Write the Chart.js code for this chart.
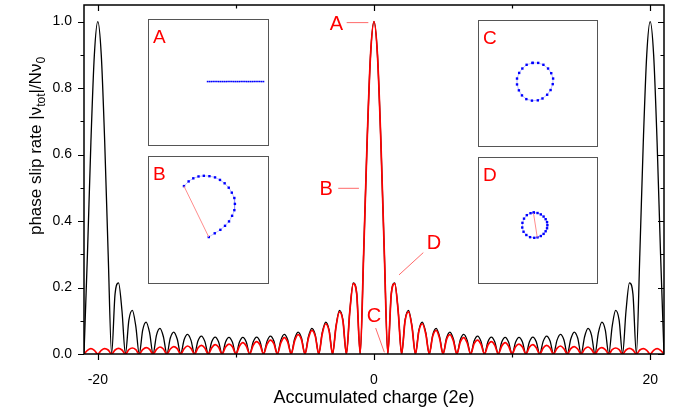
<!DOCTYPE html>
<html>
<head>
<meta charset="utf-8">
<script src="https://cdn.jsdelivr.net/npm/chart.js@4.4.1/dist/chart.umd.min.js"></script>
<style>
    html, body { margin: 0; padding: 0; background: #fff; }
    #wrap { position: relative; width: 678px; height: 416px; overflow: hidden; }
    #mainChart { position: absolute; left: 0; top: 0; }
    .inset { position: absolute; box-sizing: border-box; border: 1.5px solid #555; background: #fff; overflow: hidden; }
    .inset canvas { position: absolute; left: 0; top: 0; }
    .inset span { position: absolute; left: 4px; top: 7px; color: #ff0000; font: 19px/1 "Liberation Sans", Arial, sans-serif; }
</style>
</head>
<body>
<div id="wrap">
    <canvas id="mainChart" width="678" height="416"></canvas>
    <div class="inset" id="insetA" style="left:148px;top:19px;width:121px;height:127px"><canvas></canvas><span>A</span></div>
    <div class="inset" id="insetB" style="left:148px;top:156px;width:121px;height:128px"><canvas></canvas><span>B</span></div>
    <div class="inset" id="insetC" style="left:478px;top:20px;width:120px;height:127px"><canvas></canvas><span>C</span></div>
    <div class="inset" id="insetD" style="left:478px;top:157px;width:120px;height:127px"><canvas></canvas><span>D</span></div>
</div>
<script>
// accumulated charge (2e), one row per unit
const chargeX = [
    -21, -20.75, -20.5, -20.25, -20, -19.75, -19.5, -19.25, -19, -18.75, -18.5, -18.25,
    -18, -17.75, -17.5, -17.25, -17, -16.75, -16.5, -16.25, -16, -15.75, -15.5, -15.25,
    -15, -14.75, -14.5, -14.25, -14, -13.75, -13.5, -13.25, -13, -12.75, -12.5, -12.25,
    -12, -11.75, -11.5, -11.25, -11, -10.75, -10.5, -10.25, -10, -9.75, -9.5, -9.25,
    -9, -8.75, -8.5, -8.25, -8, -7.75, -7.5, -7.25, -7, -6.75, -6.5, -6.25,
    -6, -5.75, -5.5, -5.25, -5, -4.75, -4.5, -4.25, -4, -3.75, -3.5, -3.25,
    -3, -2.75, -2.5, -2.25, -2, -1.75, -1.5, -1.25, -1, -0.75, -0.5, -0.25,
    0, 0.25, 0.5, 0.75, 1, 1.25, 1.5, 1.75, 2, 2.25, 2.5, 2.75,
    3, 3.25, 3.5, 3.75, 4, 4.25, 4.5, 4.75, 5, 5.25, 5.5, 5.75,
    6, 6.25, 6.5, 6.75, 7, 7.25, 7.5, 7.75, 8, 8.25, 8.5, 8.75,
    9, 9.25, 9.5, 9.75, 10, 10.25, 10.5, 10.75, 11, 11.25, 11.5, 11.75,
    12, 12.25, 12.5, 12.75, 13, 13.25, 13.5, 13.75, 14, 14.25, 14.5, 14.75,
    15, 15.25, 15.5, 15.75, 16, 16.25, 16.5, 16.75, 17, 17.25, 17.5, 17.75,
    18, 18.25, 18.5, 18.75, 19, 19.25, 19.5, 19.75, 20, 20.25, 20.5, 20.75,
    21
];

// red curve: single peak at 0
const redRate = [
    0, 0.011, 0.016, 0.011, 0, 0.011, 0.016, 0.012, 0, 0.012, 0.017, 0.012,
    0, 0.013, 0.018, 0.013, 0, 0.013, 0.019, 0.014, 0, 0.014, 0.021, 0.015,
    0, 0.015, 0.022, 0.016, 0, 0.016, 0.024, 0.017, 0, 0.018, 0.026, 0.018,
    0, 0.019, 0.028, 0.020, 0, 0.021, 0.030, 0.022, 0, 0.023, 0.034, 0.024,
    0, 0.026, 0.037, 0.027, 0, 0.029, 0.042, 0.031, 0, 0.033, 0.049, 0.036,
    0, 0.039, 0.058, 0.043, 0, 0.047, 0.071, 0.053, 0, 0.060, 0.091, 0.069,
    0, 0.082, 0.127, 0.100, 0, 0.129, 0.212, 0.180, 0, 0.300, 0.637, 0.900,
    1, 0.900, 0.637, 0.300, 0, 0.180, 0.212, 0.129, 0, 0.100, 0.127, 0.082,
    0, 0.069, 0.091, 0.060, 0, 0.053, 0.071, 0.047, 0, 0.043, 0.058, 0.039,
    0, 0.036, 0.049, 0.033, 0, 0.031, 0.042, 0.029, 0, 0.027, 0.037, 0.026,
    0, 0.024, 0.034, 0.023, 0, 0.022, 0.030, 0.021, 0, 0.020, 0.028, 0.019,
    0, 0.018, 0.026, 0.018, 0, 0.017, 0.024, 0.016, 0, 0.016, 0.022, 0.015,
    0, 0.015, 0.021, 0.014, 0, 0.014, 0.019, 0.013, 0, 0.013, 0.018, 0.013,
    0, 0.012, 0.017, 0.012, 0, 0.012, 0.016, 0.011, 0, 0.011, 0.016, 0.011,
    0
];

// black curve: peaks at -20, 0 and 20
const blackRate = [
    0, 0.301, 0.637, 0.900, 1, 0.900, 0.637, 0.301, 0, 0.181, 0.214, 0.130,
    0, 0.102, 0.131, 0.084, 0, 0.072, 0.096, 0.064, 0, 0.057, 0.077, 0.052,
    0, 0.048, 0.066, 0.045, 0, 0.043, 0.059, 0.041, 0, 0.039, 0.054, 0.038,
    0, 0.037, 0.051, 0.036, 0, 0.036, 0.050, 0.035, 0, 0.035, 0.050, 0.036,
    0, 0.036, 0.051, 0.037, 0, 0.038, 0.054, 0.039, 0, 0.041, 0.059, 0.043,
    0, 0.045, 0.066, 0.048, 0, 0.052, 0.077, 0.057, 0, 0.064, 0.096, 0.072,
    0, 0.084, 0.131, 0.102, 0, 0.130, 0.214, 0.181, 0, 0.301, 0.637, 0.900,
    1, 0.900, 0.637, 0.301, 0, 0.181, 0.214, 0.130, 0, 0.102, 0.131, 0.084,
    0, 0.072, 0.096, 0.064, 0, 0.057, 0.077, 0.052, 0, 0.048, 0.066, 0.045,
    0, 0.043, 0.059, 0.041, 0, 0.039, 0.054, 0.038, 0, 0.037, 0.051, 0.036,
    0, 0.036, 0.050, 0.035, 0, 0.035, 0.050, 0.036, 0, 0.036, 0.051, 0.037,
    0, 0.038, 0.054, 0.039, 0, 0.041, 0.059, 0.043, 0, 0.045, 0.066, 0.048,
    0, 0.052, 0.077, 0.057, 0, 0.064, 0.096, 0.072, 0, 0.084, 0.131, 0.102,
    0, 0.130, 0.214, 0.181, 0, 0.301, 0.637, 0.900, 1, 0.900, 0.637, 0.301,
    0
];

const xMajorTicks = [-20, 0, 20];
const xMinorTicks = [-10, 10];
const yMajorTicks = [0, 0.2, 0.4, 0.6, 0.8, 1.0];
const yMinorTicks = [0.1, 0.3, 0.5, 0.7, 0.9];

// phasor insets (dot positions inside each box)
const phasorAX = [60, 62, 64, 66, 68, 70, 72, 74, 76, 78, 80, 82, 84, 86, 88, 90, 92, 94, 96, 98, 100, 102, 104, 106, 108, 110, 112, 114, 116, 118, 120];
const phasorAY = [63, 63, 63, 63, 63, 63, 63, 63, 63, 63, 63, 63, 63, 63, 63, 63, 63, 63, 63, 63, 63, 63, 63, 63, 63, 63, 63, 63, 63, 63, 63];
const phasorBX = [34.7, 39.7, 44.7, 50.3, 56, 62, 68, 73.3, 78.3, 82.7, 86, 88.7, 89.3, 88.7, 86.3, 83, 78.7, 73.7, 67.7, 61.3];
const phasorBY = [28.3, 23.3, 20, 18, 17.3, 17.7, 19, 21.7, 25.3, 30, 35.3, 41, 47.3, 54, 60, 66, 70.7, 75, 78.7, 82.7];
const phasorCX = [54.7, 60.7, 66.3, 71.3, 74.7, 76.7, 76.3, 74, 70.3, 65.3, 60.3, 54, 48, 43.3, 40, 38, 38, 40.3, 43.7, 48.3, 54.7];
const phasorCY = [42, 42, 44, 48, 53, 58.7, 64.7, 71, 76, 80, 82, 82.3, 80.7, 76.7, 71.3, 65, 58.7, 52.7, 48, 44, 42];
const phasorDX = [56, 60, 63.5, 66.5, 68.7, 70.2, 70.6, 70.2, 68.7, 66.5, 63.5, 60, 56.5, 52, 48, 45, 43.6, 43.8, 45.5, 48.5, 52.5, 56];
const phasorDY = [55.5, 56, 57.5, 59.8, 62.6, 65.7, 69, 72.3, 75.5, 78.3, 80.6, 82, 82.5, 81.8, 79.5, 76, 71.5, 66.5, 62, 58.3, 56.2, 55.5];
const resultantB = [[34.7, 28.3], [61.3, 82.7]];
const resultantD = [[55.7, 56.3], [59.7, 82]];

// callouts on the main plot: label position and leader line, in data units
const callouts = [
    { text: 'A', at: [-2.72, 0.992], from: [-1.98, 0.997], to: [-0.41, 0.997] },
    { text: 'B', at: [-3.47, 0.496], from: [-2.59, 0.4985], to: [-1.09, 0.4985] },
    { text: 'C', at: [0.0, 0.113], from: [0.12, 0.078], to: [0.75, 0.005] },
    { text: 'D', at: [4.35, 0.331], from: [3.57, 0.305], to: [1.81, 0.238] }
];

const FONT = '"Liberation Sans", Arial, sans-serif';
Chart.defaults.font.family = FONT;
Chart.defaults.color = '#000';

function toPoints(xs, ys) {
    return xs.map((x, i) => ({ x: x, y: ys[i] }));
}

// frame and tick marks on all four sides
const frameTicks = {
    id: 'frameTicks',
    afterDraw(chart) {
        const { ctx, chartArea: a, scales: { x, y } } = chart;
        ctx.save();
        ctx.strokeStyle = '#000';
        ctx.lineWidth = 1.5;
        ctx.strokeRect(a.left, a.top, a.right - a.left, a.bottom - a.top);
        ctx.lineWidth = 1.2;
        ctx.beginPath();
        const xt = (vals, len) => vals.forEach(v => {
            const px = Math.round(x.getPixelForValue(v)) + 0.5;
            ctx.moveTo(px, a.bottom); ctx.lineTo(px, a.bottom + len);
            ctx.moveTo(px, a.top); ctx.lineTo(px, a.top + len);
        });
        const yt = (vals, len) => vals.forEach(v => {
            const py = Math.round(y.getPixelForValue(v)) + 0.5;
            ctx.moveTo(a.left, py); ctx.lineTo(a.left - len, py);
            ctx.moveTo(a.right, py); ctx.lineTo(a.right - len, py);
        });
        xt(xMajorTicks, 6); xt(xMinorTicks, 3.5);
        yt(yMajorTicks, 6); yt(yMinorTicks, 3.5);
        ctx.stroke();
        ctx.restore();
    }
};

// red letters with leader lines
const calloutPlugin = {
    id: 'callouts',
    afterDatasetsDraw(chart) {
        const { ctx, scales: { x, y } } = chart;
        ctx.save();
        callouts.forEach(c => {
            ctx.strokeStyle = '#ff6a6a';
            ctx.lineWidth = 1;
            ctx.beginPath();
            ctx.moveTo(x.getPixelForValue(c.from[0]), y.getPixelForValue(c.from[1]));
            ctx.lineTo(x.getPixelForValue(c.to[0]), y.getPixelForValue(c.to[1]));
            ctx.stroke();
            ctx.fillStyle = '#ff0000';
            ctx.font = '20px ' + FONT;
            ctx.textAlign = 'center';
            ctx.textBaseline = 'middle';
            ctx.fillText(c.text, x.getPixelForValue(c.at[0]), y.getPixelForValue(c.at[1]));
        });
        ctx.restore();
    }
};

// y title with subscripts
const yTitle = {
    id: 'yTitle',
    afterDraw(chart) {
        const ctx = chart.ctx;
        const big = '17px ' + FONT;
        const small = '12px ' + FONT;
        const parts = [['phase slip rate |\u03bd', big, 0], ['tot', small, 4], ['|/N\u03bd', big, 0], ['0', small, 4]];
        ctx.save();
        let total = 0;
        parts.forEach(p => { ctx.font = p[1]; total += ctx.measureText(p[0]).width; });
        ctx.translate(41, 146 + total / 2);
        ctx.rotate(-Math.PI / 2);
        ctx.fillStyle = '#000';
        ctx.textBaseline = 'alphabetic';
        let pos = 0;
        parts.forEach(p => {
            ctx.font = p[1];
            ctx.fillText(p[0], pos, p[2]);
            pos += ctx.measureText(p[0]).width;
        });
        ctx.restore();
    }
};

new Chart(document.getElementById('mainChart'), {
    type: 'line',
    data: {
        datasets: [
            {
                label: 'red',
                data: toPoints(chargeX, redRate),
                borderColor: '#ff0000',
                borderWidth: 1.7,
                pointRadius: 0,
                cubicInterpolationMode: 'monotone'
            },
            {
                label: 'black',
                data: toPoints(chargeX, blackRate),
                borderColor: '#000000',
                borderWidth: 1.3,
                pointRadius: 0,
                cubicInterpolationMode: 'monotone'
            }
        ]
    },
    options: {
        responsive: false,
        animation: false,
        layout: { padding: { top: 5, right: 14, bottom: 0, left: 0 } },
        plugins: { legend: { display: false }, tooltip: { enabled: false } },
        scales: {
            x: {
                type: 'linear',
                min: -21,
                max: 21,
                afterBuildTicks: s => { s.ticks = xMajorTicks.map(v => ({ value: v })); },
                afterFit: s => { s.height = 62; s.paddingLeft = 0; s.paddingRight = 0; },
                grid: { display: false, drawTicks: false },
                border: { display: false },
                ticks: { padding: 18, font: { size: 14 }, color: '#000', maxRotation: 0, autoSkip: false, callback: v => String(v) },
                title: { display: true, text: 'Accumulated charge (2e)', font: { size: 18 }, color: '#000', padding: { top: 0, bottom: 7 } }
            },
            y: {
                min: 0,
                max: 1.05,
                afterBuildTicks: s => { s.ticks = yMajorTicks.map(v => ({ value: v })); },
                afterFit: s => { s.width = 84; s.paddingTop = 0; s.paddingBottom = 0; },
                grid: { display: false, drawTicks: false },
                border: { display: false },
                ticks: { padding: 12, font: { size: 14 }, color: '#000', callback: v => v.toFixed(1) }
            }
        }
    },
    plugins: [frameTicks, calloutPlugin, yTitle]
});

// small phasor diagrams
function drawInset(id, xs, ys, resultant, dotSize) {
    const box = document.getElementById(id);
    const canvas = box.querySelector('canvas');
    const w = box.clientWidth, h = box.clientHeight;
    canvas.width = w;
    canvas.height = h;
    const datasets = [];
    if (resultant) {
        datasets.push({
            data: resultant.map(p => ({ x: p[0], y: p[1] })),
            showLine: true,
            borderColor: '#ff8c8c',
            borderWidth: 1,
            pointRadius: 0,
            clip: false
        });
    }
    datasets.push({
        data: toPoints(xs, ys),
        showLine: true,
        borderColor: 'rgba(130,130,255,0.5)',
        borderWidth: 1,
        pointStyle: 'rect',
        pointRadius: dotSize,
        pointBackgroundColor: '#0000ff',
        pointBorderWidth: 0,
        clip: false
    });
    new Chart(canvas, {
        type: 'scatter',
        data: { datasets: datasets },
        options: {
            responsive: false,
            animation: false,
            layout: { padding: 0 },
            plugins: { legend: { display: false }, tooltip: { enabled: false } },
            scales: {
                x: { type: 'linear', min: 1.5, max: 1.5 + w, display: false },
                y: { type: 'linear', min: 1.5, max: 1.5 + h, reverse: true, display: false }
            }
        }
    });
}

drawInset('insetA', phasorAX, phasorAY, null, 1.1);
drawInset('insetB', phasorBX, phasorBY, resultantB, 1.7);
drawInset('insetC', phasorCX, phasorCY, null, 1.7);
drawInset('insetD', phasorDX, phasorDY, resultantD, 1.7);
</script>
</body>
</html>
